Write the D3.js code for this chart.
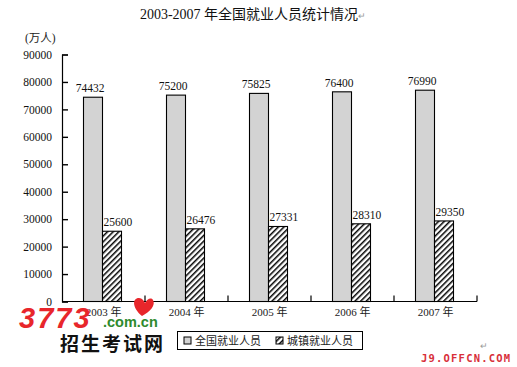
<!DOCTYPE html>
<html>
<head>
<meta charset="utf-8">
<script src="https://cdn.jsdelivr.net/npm/d3@7"></script>
<style>
  body { margin: 0; background: #fff; }
  svg { display: block; }
  .num { font-family: "Liberation Serif", "Times New Roman", "Noto Sans CJK SC", serif; }
  .cjk { font-family: "Liberation Serif", "Noto Sans CJK SC", sans-serif; }
</style>
</head>
<body>
<svg id="chart" width="517" height="367"></svg>
<script>
// chart data
const years = ['2003', '2004', '2005', '2006', '2007'];
const seriesNames = ['全国就业人员', '城镇就业人员'];
const totalEmployed = [74432, 75200, 75825, 76400, 76990];
const urbanEmployed = [25600, 26476, 27331, 28310, 29350];
const yTicks = [0, 10000, 20000, 30000, 40000, 50000, 60000, 70000, 80000, 90000];

const svg = d3.select('#chart');
const plot = { left: 62, right: 477, top: 54.5, bottom: 301.5 };

// hatch pattern for urban series
const defs = svg.append('defs');
const hatch = defs.append('pattern')
    .attr('id', 'hatch')
    .attr('patternUnits', 'userSpaceOnUse')
    .attr('width', 4)
    .attr('height', 4)
    .attr('patternTransform', 'rotate(45)');
hatch.append('rect').attr('width', 4).attr('height', 4).attr('fill', '#fff');
hatch.append('line')
    .attr('x1', 0).attr('y1', 0).attr('x2', 0).attr('y2', 4)
    .attr('stroke', '#000').attr('stroke-width', 3);

const x = d3.scaleBand().domain(years).range([plot.left, plot.right]).padding(0);
const barW = 19;
const outer = (x.bandwidth() / barW - 2) / 2;
const x1 = d3.scaleBand().domain(seriesNames).range([0, x.bandwidth()])
    .paddingInner(0).paddingOuter(outer);
const y = d3.scaleLinear().domain([0, 90000]).range([plot.bottom, plot.top]);

const fills = { '全国就业人员': '#d3d3d3', '城镇就业人员': 'url(#hatch)' };

// title
const title = svg.append('text')
    .attr('class', 'cjk')
    .attr('x', 253).attr('y', 19)
    .attr('text-anchor', 'middle')
    .style('font-size', '14px')
    .attr('fill', '#111');
title.append('tspan').text('2003-2007 年全国就业人员统计情况');
title.append('tspan').attr('fill', '#999').style('font-size', '9px').text('↵');

svg.append('text')
    .attr('class', 'cjk')
    .attr('x', 25).attr('y', 42)
    .style('font-size', '11.5px')
    .attr('fill', '#222')
    .text('(万人)');

// y axis
const yAxis = svg.append('g')
    .attr('class', 'num')
    .attr('transform', `translate(${plot.left},0)`)
    .call(d3.axisLeft(y).tickValues(yTicks).tickFormat(d3.format('d')).tickSize(-6).tickPadding(10));
yAxis.select('.domain').attr('stroke', '#000').attr('stroke-width', 1.2);
yAxis.selectAll('.tick line').attr('stroke', '#000').attr('stroke-width', 1.4);
yAxis.selectAll('.tick text').style('font-size', '11.5px').attr('fill', '#111')
    .attr('font-family', null);

// bars
const groups = svg.append('g').selectAll('g')
    .data(years)
    .join('g')
    .attr('transform', d => `translate(${x(d) - 1},0)`);

const rows = years.map((yr, i) => [
    { year: yr, key: seriesNames[0], value: totalEmployed[i] },
    { year: yr, key: seriesNames[1], value: urbanEmployed[i] }
]);

groups.each(function(d, i) {
    const g = d3.select(this);
    g.selectAll('rect')
        .data(rows[i])
        .join('rect')
        .attr('x', r => x1(r.key))
        .attr('y', r => y(r.value))
        .attr('width', x1.bandwidth())
        .attr('height', r => y(0) - y(r.value))
        .attr('fill', r => fills[r.key])
        .attr('stroke', '#000')
        .attr('stroke-width', 1.1);
    g.selectAll('text')
        .data(rows[i])
        .join('text')
        .attr('class', 'num')
        .attr('x', r => r.key === seriesNames[0] ? x1(r.key) + x1.bandwidth() / 2 - 3 : x1(r.key) + 1)
        .attr('y', r => y(r.value) - 5)
        .attr('text-anchor', r => r.key === seriesNames[0] ? 'middle' : 'start')
        .style('font-size', '11.5px')
        .attr('fill', '#111')
        .text(r => r.value);
});

// x axis
const xAxis = svg.append('g')
    .attr('transform', `translate(0,${plot.bottom})`);
xAxis.append('line')
    .attr('x1', plot.left).attr('x2', plot.right)
    .attr('stroke', '#000').attr('stroke-width', 1.2);
xAxis.selectAll('.xtick')
    .data(years.slice(1).concat(['end']))
    .join('line')
    .attr('x1', d => d === 'end' ? plot.right : x(d))
    .attr('x2', d => d === 'end' ? plot.right : x(d))
    .attr('y1', 0).attr('y2', -6)
    .attr('stroke', '#000').attr('stroke-width', 1.2);
xAxis.selectAll('.xlabel')
    .data(years)
    .join('text')
    .attr('class', 'cjk')
    .attr('x', d => x(d) + x.bandwidth() / 2)
    .attr('y', 14)
    .attr('text-anchor', 'middle')
    .style('font-size', '11px')
    .attr('fill', '#222')
    .text(d => d + ' 年');

// legend
const legend = svg.append('g').attr('transform', 'translate(177.5,331.5)');
legend.append('rect')
    .attr('width', 185).attr('height', 18)
    .attr('fill', '#fff').attr('stroke', '#000').attr('stroke-width', 1);
seriesNames.forEach((name, i) => {
    const lx = i === 0 ? 6.5 : 98.5;
    legend.append('rect')
        .attr('x', lx).attr('y', 5.5).attr('width', 7).attr('height', 7)
        .attr('fill', fills[name]).attr('stroke', '#000').attr('stroke-width', 1);
    legend.append('text')
        .attr('class', 'cjk')
        .attr('x', lx + 11).attr('y', 13.5)
        .style('font-size', '11px')
        .attr('fill', '#222')
        .text(name);
});

// watermarks
svg.append('text')
    .attr('x', 19).attr('y', 328)
    .attr('font-family', 'Liberation Sans, Arial, sans-serif')
    .attr('font-weight', 'bold').attr('font-style', 'italic')
    .style('font-size', '29px')
    .attr('fill', '#e8262b')
    .attr('letter-spacing', 2)
    .text('3773');
svg.append('text')
    .attr('x', 103).attr('y', 327)
    .attr('font-family', 'Liberation Sans, Arial, sans-serif')
    .attr('font-weight', 'bold')
    .style('font-size', '14.5px')
    .attr('fill', '#2e8b2e')
    .text('.com.cn');
svg.append('path')
    .attr('d', 'M142,316 C132,308 132,298 139,298 C142,298 144,301 145,303 C147,299 151,297 153,300 C156,305 150,312 142,316 Z')
    .attr('fill', '#e8262b');
svg.append('text')
    .attr('class', 'cjk')
    .attr('x', 60).attr('y', 351)
    .style('font-size', '19px')
    .attr('font-weight', 'bold')
    .attr('fill', '#111')
    .attr('letter-spacing', 2)
    .text('招生考试网');
svg.append('text')
    .attr('x', 421).attr('y', 362)
    .attr('font-family', 'DejaVu Sans Mono, monospace')
    .attr('font-weight', 'bold')
    .style('font-size', '10.5px')
    .attr('letter-spacing', 1.2)
    .attr('fill', '#d8303a')
    .text('J9.OFFCN.COM');
svg.append('text')
    .attr('x', 480).attr('y', 349)
    .style('font-size', '9px').attr('fill', '#999')
    .text('↵');
</script>
</body>
</html>
